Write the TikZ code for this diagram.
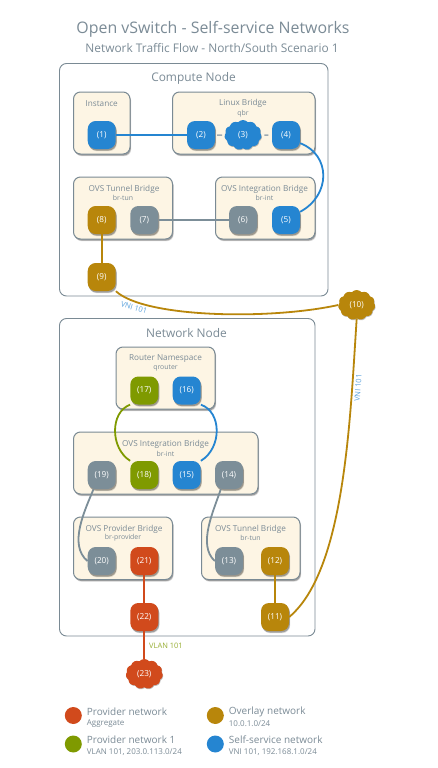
\documentclass[tikz,border=0pt]{standalone}
\usepackage{fontspec}
\setmainfont{Open Sans}
\usetikzlibrary{shadows,shapes.symbols}
\definecolor{cblue}{HTML}{2585D1}
\definecolor{cgold}{HTML}{B8860B}
\definecolor{cgreen}{HTML}{7F9A00}
\definecolor{corange}{HTML}{D14A1C}
\definecolor{cgrey}{HTML}{7C8E98}
\definecolor{cframe}{HTML}{7A8A94}
\definecolor{ctext}{HTML}{7B8B96}
\definecolor{cbox}{HTML}{FDF5E4}
\tikzset{
  x=1pt,y=-1pt,
  softshadow/.style={
    drop shadow={shadow xshift=1.2pt,shadow yshift=-2.2pt,fill=black,opacity=.14},
    drop shadow={shadow xshift=.8pt,shadow yshift=-1.5pt,fill=black,opacity=.28}},
  outer/.style={draw=cframe,line width=.9pt,rounded corners=7pt,fill=white},
  bridge/.style={draw=cframe,line width=1pt,rounded corners=7pt,fill=cbox,softshadow},
  port/.style={rounded corners=8pt,fill=#1,minimum width=28pt,minimum height=28pt,inner sep=0pt,text=white,font=\fontsize{8.2}{9}\selectfont,softshadow},
  cloudport/.style={cloud,cloud puffs=11,cloud puff arc=100,aspect=1.25,fill=#1,inner sep=0pt,minimum width=37pt,minimum height=30pt,text=white,font=\fontsize{8.2}{9}\selectfont,drop shadow={shadow xshift=.5pt,shadow yshift=-.8pt,fill=black,opacity=.25}},
  link/.style={draw=#1,line width=1.8pt},
  stub/.style={draw=cgrey!75,line width=1.5pt},
  ttl/.style={text=ctext,inner sep=0pt,anchor=center},
  boxtitle/.style={ttl,font=\fontsize{8.2}{10}\selectfont},
  boxsub/.style={ttl,font=\fontsize{6.9}{8}\selectfont},
  nodetitle/.style={ttl,font=\fontsize{11.9}{14}\selectfont},
  legmain/.style={text=ctext,inner sep=0pt,anchor=west,font=\fontsize{10}{12}\selectfont},
  legsub/.style={text=ctext,inner sep=0pt,anchor=west,font=\fontsize{8}{10}\selectfont},
  legdot/.style={circle,fill=#1,minimum size=17pt,inner sep=0pt},
  linklabel/.style={text=#1,inner sep=0pt,font=\fontsize{7.5}{9}\selectfont},
}
\begin{document}
\begin{tikzpicture}
\useasboundingbox (0,0) rectangle (437,768);
\fill[white] (0,0) rectangle (437,768);
% titles
\node[ttl,font=\fontsize{15.9}{19}\selectfont] (title) at (213,29.5) {Open vSwitch - Self-service Networks};
\node[ttl,font=\fontsize{11.9}{14}\selectfont] (subtitle) at (212,48) {Network Traffic Flow - North/South Scenario 1};
% outer frames
\path[outer] (59.5,63.5) rectangle (328,296);
\path[outer] (59.5,318.5) rectangle (315,636);
\node[nodetitle] (compute) at (193.5,78.5) {Compute Node};
\node[nodetitle] (network) at (186.5,333) {Network Node};
% bridges
\path[bridge] (73.5,92) rectangle (130,154);
\path[bridge] (172.5,92) rectangle (315,154);
\path[bridge] (73.5,177) rectangle (172.5,239);
\path[bridge] (215.5,177) rectangle (315,239);
\path[bridge] (116,347) rectangle (215,409);
\path[bridge] (73.5,432) rectangle (258,494);
\path[bridge] (73.5,517) rectangle (172.5,579.5);
\path[bridge] (201.5,517) rectangle (300,579.5);
% bridge labels
\node[boxtitle] (l1) at (101.7,103.5) {Instance};
\node[boxtitle] (l2) at (243,103.5) {Linux Bridge};
\node[boxsub] (l2s) at (243,113.5) {qbr};
\node[boxtitle] (l3) at (124,189) {OVS Tunnel Bridge};
\node[boxsub] (l3s) at (123,198) {br-tun};
\node[boxtitle] (l4) at (264.5,189) {OVS Integration Bridge};
\node[boxsub] (l4s) at (264.5,198) {br-int};
\node[boxtitle] (l5) at (165.5,359) {Router Namespace};
\node[boxsub] (l5s) at (165.5,368) {qrouter};
\node[boxtitle] (l6) at (165.5,444) {OVS Integration Bridge};
\node[boxsub] (l6s) at (165.5,453.5) {br-int};
\node[boxtitle] (l7) at (124,529) {OVS Provider Bridge};
\node[boxsub] (l7s) at (123,538) {br-provider};
\node[boxtitle] (l8) at (250.5,529) {OVS Tunnel Bridge};
\node[boxsub] (l8s) at (250.5,538) {br-tun};
% ports
\node[port=cblue] (p1) at (101.7,135) {(1)};
\node[port=cblue] (p2) at (201,135) {(2)};
\node[cloudport=cblue] (p3) at (243,135) {(3)};
\node[port=cblue] (p4) at (286,135) {(4)};
\node[port=cblue] (p5) at (286,220) {(5)};
\node[port=cgrey] (p6) at (243,220) {(6)};
\node[port=cgrey] (p7) at (144.3,220) {(7)};
\node[port=cgold] (p8) at (101.7,220) {(8)};
\node[port=cgold] (p9) at (101.7,277) {(9)};
\node[cloudport=cgold] (p10) at (356.7,305) {(10)};
\node[port=cgold] (p11) at (275,617) {(11)};
\node[port=cgold] (p12) at (275,561) {(12)};
\node[port=cgrey] (p13) at (229,561) {(13)};
\node[port=cgrey] (p14) at (229,475) {(14)};
\node[port=cblue] (p15) at (186.7,475) {(15)};
\node[port=cblue] (p16) at (186.7,390.5) {(16)};
\node[port=cgreen] (p17) at (144.3,390.5) {(17)};
\node[port=cgreen] (p18) at (144.3,475) {(18)};
\node[port=cgrey] (p19) at (101.7,475) {(19)};
\node[port=cgrey] (p20) at (101.7,561) {(20)};
\node[port=corange] (p21) at (144.3,561) {(21)};
\node[port=corange] (p22) at (144.3,617) {(22)};
\node[cloudport=corange] (p23) at (144.3,674) {(23)};
% connectors
\draw[link=cblue] (p1) -- (p2);
\draw[stub,dash pattern=on 0pt off 2pt on 5pt off 20pt] (p2) -- (p3);
\draw[stub,dash pattern=on 0pt off 3pt on 4pt off 20pt] (p3) -- (p4);
\draw[link=cblue] (p4.-30) .. controls (331,155) and (331,195) .. (p5.30);
\draw[link=cgrey] (p7) -- (p6);
\draw[link=cgold] (p8) -- (p9);
\draw[link=cgold] (p9.-45) .. controls (145,318) and (270,320) .. (p10.west);
\draw[link=cgold] (p10.south) .. controls (350,420) and (345,570) .. (p11.east);
\draw[link=cgold] (p12) -- (p11);
\draw[link=cgrey] (p14.-120) .. controls (214,510) and (197,545) .. (p13.west);
\draw[link=cblue] (p16.-45) .. controls (222,412) and (222,448) .. (p15.45);
\draw[link=cgreen] (p17.-135) .. controls (110,412) and (110,448) .. (p18.135);
\draw[link=cgrey] (p19.-120) .. controls (85,510) and (68,545) .. (p20.west);
\draw[link=corange] (p21) -- (p22);
\draw[link=corange] (p22) -- (p23);
% connector labels
\node[linklabel=cblue!75,rotate=-17] (vni1) at (134,307.5) {VNI 101};
\node[linklabel=cblue!75,rotate=86] (vni2) at (358,388) {VNI 101};
\node[linklabel=cgreen!80,anchor=west] (vlan) at (149,645.5) {VLAN 101};
% legend
\node[legdot=corange] (d1) at (73.3,715.5) {};
\node[legdot=cgreen] (d2) at (73.3,744) {};
\node[legdot=cgold] (d3) at (215.3,715.5) {};
\node[legdot=cblue] (d4) at (215.3,744) {};
\node[legmain] (t1) at (86.7,711.5) {Provider network};
\node[legsub] (s1) at (86.7,723.5) {Aggregate};
\node[legmain] (t2) at (86.7,740) {Provider network 1};
\node[legsub] (s2) at (86.7,752) {VLAN 101, 203.0.113.0/24};
\node[legmain] (t3) at (228.7,712) {Overlay network};
\node[legsub] (s3) at (228.7,724) {10.0.1.0/24};
\node[legmain] (t4) at (228.7,740) {Self-service network};
\node[legsub] (s4) at (228.7,752) {VNI 101, 192.168.1.0/24};
\end{tikzpicture}
\end{document}
